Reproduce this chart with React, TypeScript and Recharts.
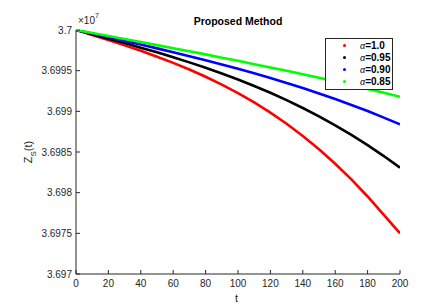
import React from 'react';
import { Line, LineChart, XAxis, YAxis } from 'recharts';

// t in steps of 10, values in units of 1e7
const tValues = [0, 10, 20, 30, 40, 50, 60, 70, 80, 90, 100, 110, 120, 130, 140, 150, 160, 170, 180, 190, 200];
const alpha100 = [3.7, 3.699938, 3.699876, 3.699811, 3.699744, 3.699672, 3.699596, 3.699514, 3.699425, 3.699329, 3.699224, 3.699109, 3.698984, 3.698847, 3.698697, 3.698534, 3.698356, 3.698163, 3.697953, 3.697726, 3.6975];
const alpha095 = [3.7, 3.699947, 3.699894, 3.699839, 3.699783, 3.699726, 3.699665, 3.699602, 3.699536, 3.699466, 3.699392, 3.699312, 3.699228, 3.699138, 3.699041, 3.698939, 3.698828, 3.69871, 3.698585, 3.69845, 3.698307];
const alpha090 = [3.7, 3.699956, 3.699911, 3.699866, 3.699821, 3.699774, 3.699727, 3.699678, 3.699628, 3.699577, 3.699523, 3.699467, 3.699409, 3.699349, 3.699286, 3.69922, 3.699151, 3.699079, 3.699003, 3.698923, 3.69884];
const alpha085 = [3.7, 3.699963, 3.699926, 3.699889, 3.699852, 3.699814, 3.699776, 3.699738, 3.6997, 3.69966, 3.699621, 3.69958, 3.699539, 3.699498, 3.699455, 3.699412, 3.699367, 3.699322, 3.699276, 3.699228, 3.699179];

const xTicks = [0, 20, 40, 60, 80, 100, 120, 140, 160, 180, 200];
const yTicks = [3.697, 3.6975, 3.698, 3.6985, 3.699, 3.6995, 3.7];

const series = [
  { key: 'a100', label: '1.0', color: '#ff0000', values: alpha100 },
  { key: 'a095', label: '0.95', color: '#000000', values: alpha095 },
  { key: 'a090', label: '0.90', color: '#0000ff', values: alpha090 },
  { key: 'a085', label: '0.85', color: '#00ff00', values: alpha085 },
];

const data = tValues.map((t, i) => {
  const row: Record<string, number> = { t };
  series.forEach((s) => (row[s.key] = s.values[i]));
  return row;
});

const axisColor = '#262626';
const font = 'Arial, "Liberation Sans", Helvetica, sans-serif';
const tickStyle = { fontSize: 10, fill: axisColor, fontFamily: font };

const LegendBox = () => (
  <div
    style={{
      position: 'absolute',
      left: 325,
      top: 38,
      border: `1px solid ${axisColor}`,
      background: '#fff',
      width: 66,
      padding: '1px 0 2px',
      fontFamily: font,
      fontSize: 10,
      fontWeight: 'bold',
      color: '#000',
    }}
  >
    {series.map((s) => (
      <div key={s.key} style={{ display: 'flex', alignItems: 'center', height: 11.8 }}>
        <span
          style={{
            width: 3,
            height: 3,
            borderRadius: 2,
            background: s.color,
            marginLeft: 17,
            marginRight: 14,
          }}
        />
        <span>
          <span style={{ fontWeight: 'normal', fontStyle: 'italic', fontSize: 9 }}>α</span>={s.label}
        </span>
      </div>
    ))}
  </div>
);

export default function App() {
  return (
    <div
      style={{
        position: 'absolute',
        left: 0,
        top: 0,
        width: 425,
        height: 308,
        background: '#fff',
        fontFamily: font,
      }}
    >
      <LineChart width={425} height={308} data={data} margin={{ top: 30, right: 25, bottom: 0, left: 0 }}>
        <XAxis
          dataKey="t"
          type="number"
          domain={[0, 200]}
          ticks={xTicks}
          height={34}
          tickSize={-4}
          tickMargin={10}
          tick={tickStyle}
          stroke={axisColor}
          allowDataOverflow
        />
        <XAxis
          xAxisId="top"
          orientation="top"
          dataKey="t"
          type="number"
          domain={[0, 200]}
          ticks={xTicks}
          height={0}
          tickSize={-4}
          tick={false}
          stroke={axisColor}
        />
        <YAxis
          type="number"
          domain={[3.697, 3.7]}
          ticks={yTicks}
          width={76}
          tickSize={-4}
          tickMargin={8}
          tick={tickStyle}
          tickFormatter={(v: number) => String(v)}
          stroke={axisColor}
          allowDataOverflow
        />
        <YAxis
          yAxisId="right"
          orientation="right"
          type="number"
          domain={[3.697, 3.7]}
          ticks={yTicks}
          width={0}
          tickSize={-4}
          tick={false}
          stroke={axisColor}
        />
        {series.map((s) => (
          <Line
            key={s.key}
            dataKey={s.key}
            stroke={s.color}
            strokeWidth={2.6}
            dot={false}
            isAnimationActive={false}
          />
        ))}
      </LineChart>
      <LegendBox />
      <div
        style={{
          position: 'absolute',
          left: 0,
          width: 425,
          top: 15,
          textAlign: 'center',
          paddingLeft: 51,
          boxSizing: 'border-box',
          fontSize: 10.5,
          fontWeight: 'bold',
          color: '#000',
        }}
      >
        Proposed Method
      </div>
      <div style={{ position: 'absolute', left: 78, top: 15, fontSize: 10, color: axisColor }}>
        ×10<sup style={{ fontSize: 7, verticalAlign: 'top', position: 'relative', top: -3 }}>7</sup>
      </div>
      <div style={{ position: 'absolute', left: 235, top: 292, fontSize: 11, lineHeight: '12px', color: axisColor }}>
        t
      </div>
      <div
        style={{
          position: 'absolute',
          left: 30,
          top: 152,
          transform: 'translate(-50%, -50%) rotate(-90deg)',
          fontSize: 11,
          color: axisColor,
          whiteSpace: 'nowrap',
        }}
      >
        Z<sub style={{ fontSize: 8 }}>S</sub>(t)
      </div>
    </div>
  );
}
